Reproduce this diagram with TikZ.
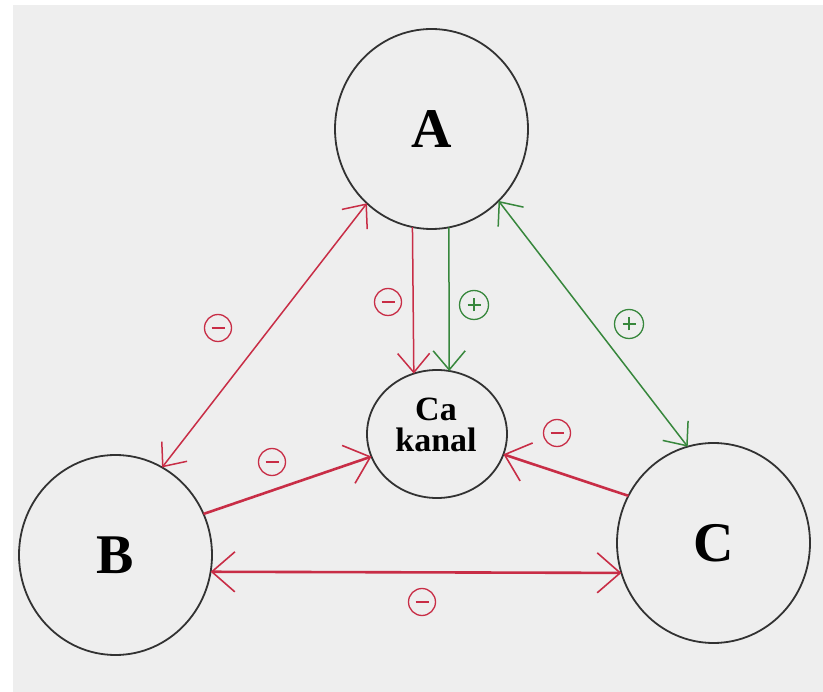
\documentclass[tikz,border=0pt]{standalone}
\usepackage{fontspec}
\setmainfont{Liberation Serif}
\usetikzlibrary{arrows.meta,shapes.geometric}
\definecolor{bgc}{RGB}{238,238,238}
\definecolor{rd}{RGB}{200,45,70}
\definecolor{gn}{RGB}{55,135,60}
\definecolor{ol}{RGB}{50,50,50}
\begin{document}
\begin{tikzpicture}[x=1pt,y=-1pt,
  big/.style={ellipse,draw=ol,line width=1.8pt,minimum width=193pt,minimum height=200pt,inner sep=0pt,outer sep=0pt,font=\bfseries\fontsize{56}{60}\selectfont},
  chan/.style={ellipse,draw=ol,line width=1.8pt,minimum width=140pt,minimum height=128pt,inner sep=0pt,outer sep=0pt},
  chantext/.style={align=center,inner sep=0pt,font=\bfseries\fontsize{34}{31}\selectfont},
  thinr/.style={draw=rd,line width=1.5pt,>={Straight Barb[length=19pt,width=32pt,line width=1.5pt 0]}},
  thickr/.style={draw=rd,line width=2.6pt,>={Straight Barb[length=23pt,width=40pt,line width=1.6pt 0]}},
  thing/.style={draw=gn,line width=1.5pt,>={Straight Barb[length=19pt,width=32pt,line width=1.5pt 0]}},
  signm/.style={circle,draw=rd,line width=1.3pt,minimum size=27pt,inner sep=0pt,
    path picture={\draw[rd,line width=2pt] ([xshift=-6.5pt]path picture bounding box.center) -- ([xshift=6.5pt]path picture bounding box.center);}},
  signp/.style={circle,draw=gn,line width=1.3pt,minimum size=29pt,inner sep=0pt,
    path picture={\draw[gn,line width=2pt] ([xshift=-6.5pt]path picture bounding box.center) -- ([xshift=6.5pt]path picture bounding box.center)
      ([yshift=-6.5pt]path picture bounding box.center) -- ([yshift=6.5pt]path picture bounding box.center);}}
]
\fill[white] (0,0) rectangle (823,692);
\fill[bgc] (13,5) rectangle (823,692);
\useasboundingbox (0,0) rectangle (823,692);

\node[big] (A) at (431.5,129) {A};
\node[big] (B) at (115.5,555) {B};
\node[big] (C) at (713.5,543) {C};
\node[chan] (Ca) at (437,434) {};
\node[chantext] (catext) at (436,425) {Ca\\kanal};

\draw[thinr,<->] (A.229) -- (B.62.4);
\draw[thinr,->] (A.259.3) -- (Ca.111.8);
\draw[thing,->] (A.280.1) -- (Ca.79.2);
\draw[thing,<->] (A.-47.3) -- (C.105.4);
\draw[thickr,->] (B.25.9) -- (Ca.199.7);
\draw[thickr,->] (C.151.7) -- (Ca.-17.9);
\draw[thickr,<->] (B.-10.74) -- (C.198.05);

\node[signm] (s1) at (218,328) {};
\node[signm] (s2) at (272,462) {};
\node[signm] (s3) at (388,302) {};
\node[signp] (s4) at (474,305) {};
\node[signp] (s5) at (629,324) {};
\node[signm] (s6) at (557,433) {};
\node[signm] (s7) at (422,602) {};
\end{tikzpicture}
\end{document}
